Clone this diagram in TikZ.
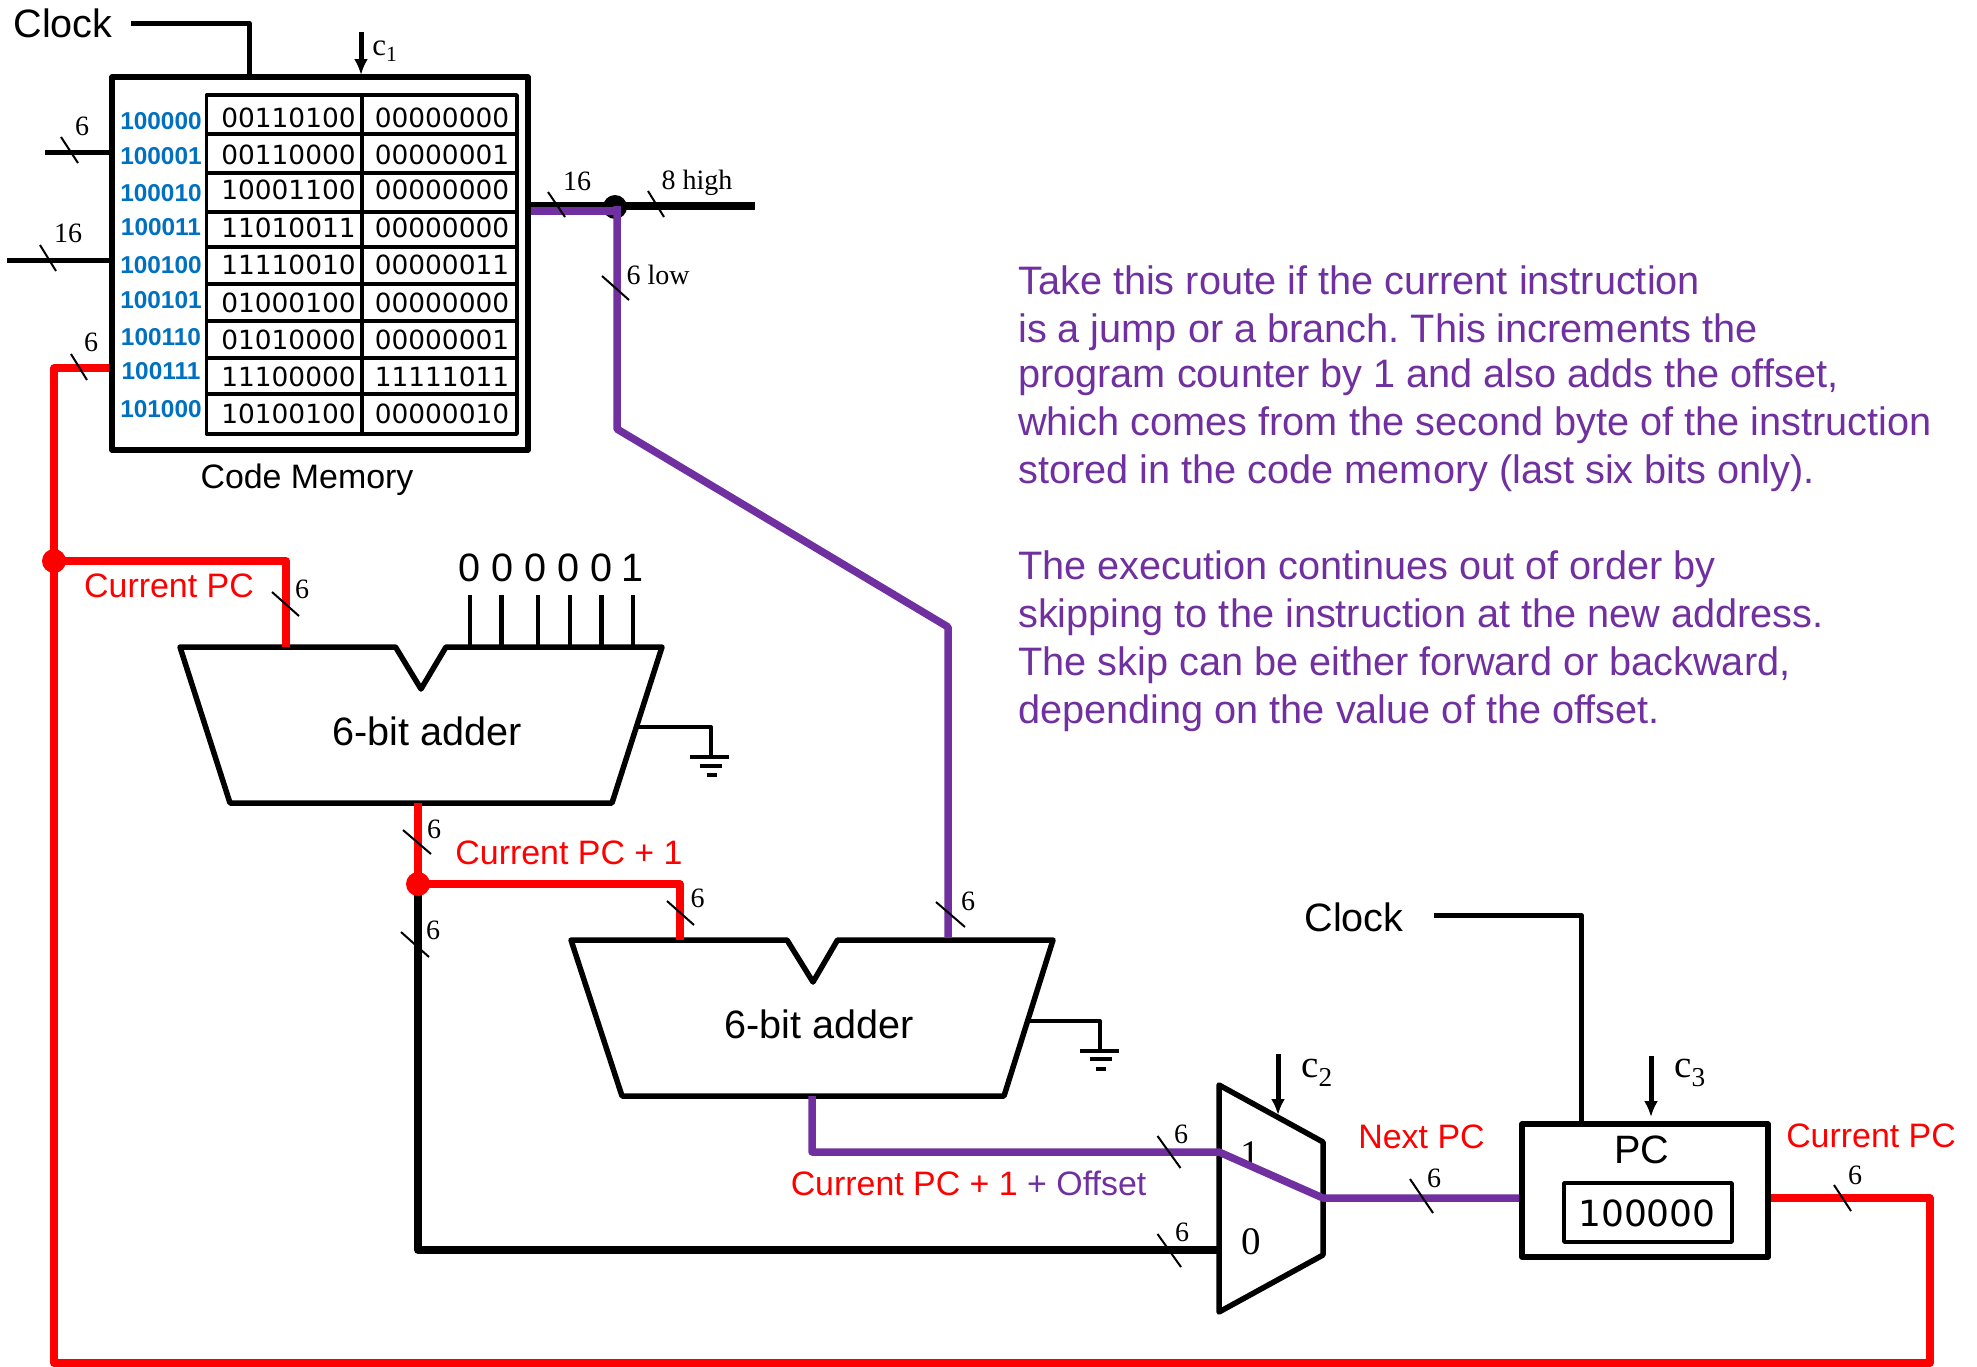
\documentclass[tikz,border=0pt]{standalone}
\usepackage{fontspec}
\setmainfont{Liberation Serif}
\setsansfont{Liberation Sans}
\newfontfamily\cellfont{DejaVu Sans}
\usetikzlibrary{arrows.meta}
\definecolor{busred}{HTML}{FF0000}
\definecolor{buspurple}{HTML}{7030A0}
\definecolor{addrblue}{HTML}{0070C0}

\begin{document}
\frenchspacing
\begin{tikzpicture}[x=1pt, y=-1pt, line join=round,
    wire/.style={line width=5.0pt},
    busblack/.style={line width=7.5pt},
    busr/.style={line width=7.5pt,draw=busred},
    busp/.style={line width=7.5pt,draw=buspurple},
    tick/.style={line width=2.0pt},
    pin/.style={line width=4.5pt},
    ctrl/.style={line width=5.0pt,-{Latex[length=16pt,width=14pt]}},
    outline/.style={line width=5.5pt},
    bar/.style={line width=4.0pt},
    box/.style={draw,line width=5.5pt,inner sep=0pt,rectangle},
    cellgrid/.style={line width=3.5pt},
    txt/.style={inner sep=0pt,anchor=center,font=\sffamily\fontsize{33.9}{40}\selectfont},
    bigtxt/.style={inner sep=0pt,anchor=center,font=\sffamily\fontsize{39.6}{47}\selectfont},
    redtxt/.style={txt,text=busred},
    para/.style={inner sep=0pt,anchor=base west,text=buspurple,font=\sffamily\fontsize{39.7}{47}\selectfont},
    width/.style={inner sep=0pt,anchor=center,font=\rmfamily\fontsize{28}{33}\selectfont},
    ctrltxt/.style={inner sep=0pt,anchor=center,font=\rmfamily\fontsize{39}{47}\selectfont},
    cell/.style={inner sep=0pt,anchor=center,font=\cellfont\fontsize{26.4}{32}\selectfont},
    addr/.style={inner sep=0pt,anchor=center,text=addrblue,font=\sffamily\bfseries\fontsize{24.4}{29}\selectfont},
    dot/.style={circle,inner sep=0pt,minimum size=24pt}]

  %% ════ code memory ════
  \node[box,minimum width=416pt,minimum height=373pt] (mem) at (320,263.5) {};
  \node[rectangle,draw,line width=3.5pt,inner sep=0pt,minimum width=310.5pt,minimum height=339pt] (tab) at (361.8,264.5) {};
  \draw[cellgrid] (362,95) -- (362,434);
  \draw[cellgrid] (206.5,134) -- (517,134);
  \draw[cellgrid] (206.5,173) -- (517,173);
  \draw[cellgrid] (206.5,212) -- (517,212);
  \draw[cellgrid] (206.5,247) -- (517,247);
  \draw[cellgrid] (206.5,284) -- (517,284);
  \draw[cellgrid] (206.5,321) -- (517,321);
  \draw[cellgrid] (206.5,358) -- (517,358);
  \draw[cellgrid] (206.5,394) -- (517,394);

  \node[addr] (a0) at (161,121) {100000};
  \node[addr] (a1) at (161,156) {100001};
  \node[addr] (a2) at (161,193) {100010};
  \node[addr] (a3) at (161,227) {100011};
  \node[addr] (a4) at (161,265) {100100};
  \node[addr] (a5) at (161,300) {100101};
  \node[addr] (a6) at (161,337) {100110};
  \node[addr] (a7) at (161,371) {100111};
  \node[addr] (a8) at (161,409) {101000};

  \node[cell] (hi0) at (288.5,118) {00110100};
  \node[cell] (hi1) at (288.5,155) {00110000};
  \node[cell] (hi2) at (288.5,190) {10001100};
  \node[cell] (hi3) at (288.5,228) {11010011};
  \node[cell] (hi4) at (288.5,265) {11110010};
  \node[cell] (hi5) at (288.5,303) {01000100};
  \node[cell] (hi6) at (288.5,340) {01010000};
  \node[cell] (hi7) at (288.5,377) {11100000};
  \node[cell] (hi8) at (288.5,414) {10100100};
  \node[cell] (lo0) at (442,118) {00000000};
  \node[cell] (lo1) at (442,155) {00000001};
  \node[cell] (lo2) at (442,190) {00000000};
  \node[cell] (lo3) at (442,228) {00000000};
  \node[cell] (lo4) at (442,265) {00000011};
  \node[cell] (lo5) at (442,303) {00000000};
  \node[cell] (lo6) at (442,340) {00000001};
  \node[cell] (lo7) at (442,377) {11111011};
  \node[cell] (lo8) at (442,414) {00000010};

  \node[txt] (memname) at (307,480) {Code Memory};

  %% ════ adders and mux ════
  \draw[outline] (180,647) -- (395.5,647) -- (421,689) -- (446,647) -- (662,647) -- (612,803) -- (230,803) -- cycle;
  \draw[outline] (571,940) -- (787,940) -- (813,982) -- (837.5,940) -- (1053,940) -- (1004,1096) -- (622,1096) -- cycle;
  \draw[outline] (1219,1085) -- (1323,1142) -- (1323,1255) -- (1219,1312) -- cycle;
  \node[bigtxt] (adderone) at (427,731) {6-bit adder};
  \node[bigtxt] (addertwo) at (819,1024) {6-bit adder};
  \node[ctrltxt] (muxone) at (1250,1155) {1};
  \node[ctrltxt] (muxzero) at (1251,1242) {0};

  %% ════ program counter ════
  \node[box,minimum width=246pt,minimum height=133pt] (pc) at (1645,1190.5) {};
  \node[rectangle,draw,line width=3.5pt,inner sep=0pt,minimum width=168pt,minimum height=59pt] (pcval) at (1648,1212.5) {};
  \node[bigtxt] (pcname) at (1642,1150) {PC};
  \node[inner sep=0pt,font=\cellfont\fontsize{36}{43}\selectfont] (pcnum) at (1647,1213) {100000};

  %% ════ wire corners ════
  \coordinate (clkA) at (131,23);
  \coordinate (clkB) at (249,23);
  \coordinate (clkC) at (1434,915);
  \coordinate (clkD) at (1581,915);
  \coordinate (sixin) at (45,152);
  \coordinate (sixteenin) at (7,260);
  \coordinate (highout) at (755,206);
  \coordinate (lowA) at (617,211);
  \coordinate (lowB) at (617,429);
  \coordinate (lowC) at (948,627);
  \coordinate (lowD) at (948,937);
  \coordinate (fbA) at (54,368);
  \coordinate (fbB) at (54,1363);
  \coordinate (fbC) at (1930,1363);
  \coordinate (fbD) at (1930,1198);
  \coordinate (jcur) at (54,561);
  \coordinate (curdown) at (286,561);
  \coordinate (curpin) at (286,647);
  \coordinate (sumout) at (418,803);
  \coordinate (jinc) at (418,884);
  \coordinate (incA) at (680,884);
  \coordinate (incpin) at (680,940);
  \coordinate (incblk) at (418,1250);
  \coordinate (muxzin) at (1219,1250);
  \coordinate (offA) at (812,1096);
  \coordinate (offB) at (812,1152);
  \coordinate (muxoin) at (1219,1152);
  \coordinate (muxout) at (1323,1198);

  %% ════ thin wires ════
  \draw[wire] (clkA) -- (clkB) -- (clkB |- mem.north);
  \draw[wire] (clkC) -- (clkD) -- (clkD |- pc.north);
  \draw[wire] (sixin) -- (sixin -| mem.west);
  \draw[wire] (sixteenin) -- (sixteenin -| mem.west);
  \draw[pin] (470,595) -- (470,647);
  \draw[pin] (501.5,595) -- (501.5,647);
  \draw[pin] (538,595) -- (538,647);
  \draw[pin] (570,595) -- (570,647);
  \draw[pin] (601.5,595) -- (601.5,647);
  \draw[pin] (633,595) -- (633,647);

  %% ════ buses ════
  \draw[busblack] (mem.east |- highout) -- (highout);
  \node[dot,fill=black] (jbus) at (615,207) {};
  \draw[busp] (mem.east |- lowA) -- (lowA);
  \draw[busp] (617,206) -- (lowB) -- (lowC) -- (lowD);
  \draw[busr] (fbA -| mem.west) -- (fbA) -- (fbB) -- (fbC) -- (fbD) -- (fbD -| pc.east);
  \draw[busr] (jcur) -- (curdown) -- (curpin);
  \draw[busblack] (jinc) -- (incblk) -- (muxzin);
  \draw[busr] (sumout) -- (jinc);
  \draw[busr] (jinc) -- (incA) -- (incpin);
  \draw[busp] (offA) -- (offB) -- (muxoin) -- (muxout) -- (muxout -| pc.west);
  \node[dot,fill=busred] (jfb) at (jcur) {};
  \node[dot,fill=busred] (jadd) at (jinc) {};

  %% ════ ground symbols ════
  \draw[bar] (638,727) -- (711,727) -- (711,757);
  \draw[bar] (690,757) -- (729,757);
  \draw[bar] (700,766) -- (722,766);
  \draw[bar] (706.5,775) -- (716.5,775);
  \draw[bar] (1029,1021) -- (1100,1021) -- (1100,1051);
  \draw[bar] (1080,1051) -- (1118.5,1051);
  \draw[bar] (1090,1059) -- (1112,1059);
  \draw[bar] (1095.5,1069) -- (1105.5,1069);

  %% ════ control arrows ════
  \draw[ctrl] (361,32) -- (361,75);
  \draw[ctrl] (1278,1054) -- (1278,1115);
  \draw[ctrl] (1651,1056) -- (1651,1117);
  \node[ctrltxt,font=\rmfamily\fontsize{31}{37}\selectfont] (cone) at (385,51) {c\textsubscript{1}};
  \node[ctrltxt] (ctwo) at (1317,1073) {c\textsubscript{2}};
  \node[ctrltxt] (cthree) at (1690,1073) {c\textsubscript{3}};

  %% ════ width ticks ════
  \draw[tick] (61,137) -- (78,163);
  \draw[tick] (40,245) -- (56,271);
  \draw[tick] (71,354) -- (87,380);
  \draw[tick] (548,192) -- (565,217);
  \draw[tick] (648,191) -- (664,217);
  \draw[tick] (602,276) -- (629,300);
  \draw[tick] (272,592) -- (299,616);
  \draw[tick] (403,830) -- (431,854);
  \draw[tick] (667,901) -- (694,925);
  \draw[tick] (401,932) -- (429,957);
  \draw[tick] (936,902) -- (965,927);
  \draw[tick] (1157.5,1136) -- (1180.5,1168);
  \draw[tick] (1157.5,1234) -- (1181,1267);
  \draw[tick] (1410,1179) -- (1433,1213);
  \draw[tick] (1834,1185) -- (1851,1211);

  %% ════ width labels ════
  \node[width] (wsix) at (82,126) {6};
  \node[width] (wsixteen) at (68,233) {16};
  \node[width] (wfb) at (91,342) {6};
  \node[width] (wout) at (577,181) {16};
  \node[width] (whigh) at (697,183) {8 high};
  \node[width] (wlow) at (658,275) {6 low};
  \node[width] (wcur) at (302,589) {6};
  \node[width] (wsum) at (434,829) {6};
  \node[width] (winc) at (697.5,898) {6};
  \node[width] (wblk) at (433,930) {6};
  \node[width] (woff) at (968,901) {6};
  \node[width] (wmo) at (1181,1134) {6};
  \node[width] (wmz) at (1182,1232) {6};
  \node[width] (wnext) at (1434,1178) {6};
  \node[width] (wpc) at (1855,1175) {6};

  %% ════ text labels ════
  \node[bigtxt] (clockone) at (63,23) {Clock};
  \node[bigtxt] (clocktwo) at (1354,917) {Clock};
  \node[bigtxt] (bit0) at (470,568) {0};
  \node[bigtxt] (bit1) at (503,568) {0};
  \node[bigtxt] (bit2) at (536,568) {0};
  \node[bigtxt] (bit3) at (569,568) {0};
  \node[bigtxt] (bit4) at (602,568) {0};
  \node[bigtxt] (bit5) at (633,568) {1};
  \node[redtxt] (curpc) at (169,586) {Current PC};
  \node[redtxt] (incpc) at (569,853) {Current PC + 1};
  \node[txt] (offpc) at (968.5,1183) {\textcolor{busred}{Current PC + 1} \textcolor{buspurple}{+ Offset}};
  \node[redtxt] (nextpc) at (1421.5,1137) {Next PC};
  \node[redtxt] (curpcb) at (1871,1136) {Current PC};

  \node[para] (p1) at (1018,294) {Take this route if the current instruction};
  \node[para] (p2) at (1018,342) {is a jump or a branch. This increments the};
  \node[para] (p3) at (1018,387) {program counter by 1 and also adds the offset,};
  \node[para] (p4) at (1018,435) {which comes from the second byte of the instruction};
  \node[para] (p5) at (1018,483) {stored in the code memory (last six bits only).};
  \node[para] (p6) at (1018,579) {The execution continues out of order by};
  \node[para] (p7) at (1018,627) {skipping to the instruction at the new address.};
  \node[para] (p8) at (1018,675) {The skip can be either forward or backward,};
  \node[para] (p9) at (1018,723) {depending on the value of the offset.};

  \pgfresetboundingbox
  \path[use as bounding box] (0,0) rectangle (1977,1366);
\end{tikzpicture}
\end{document}
